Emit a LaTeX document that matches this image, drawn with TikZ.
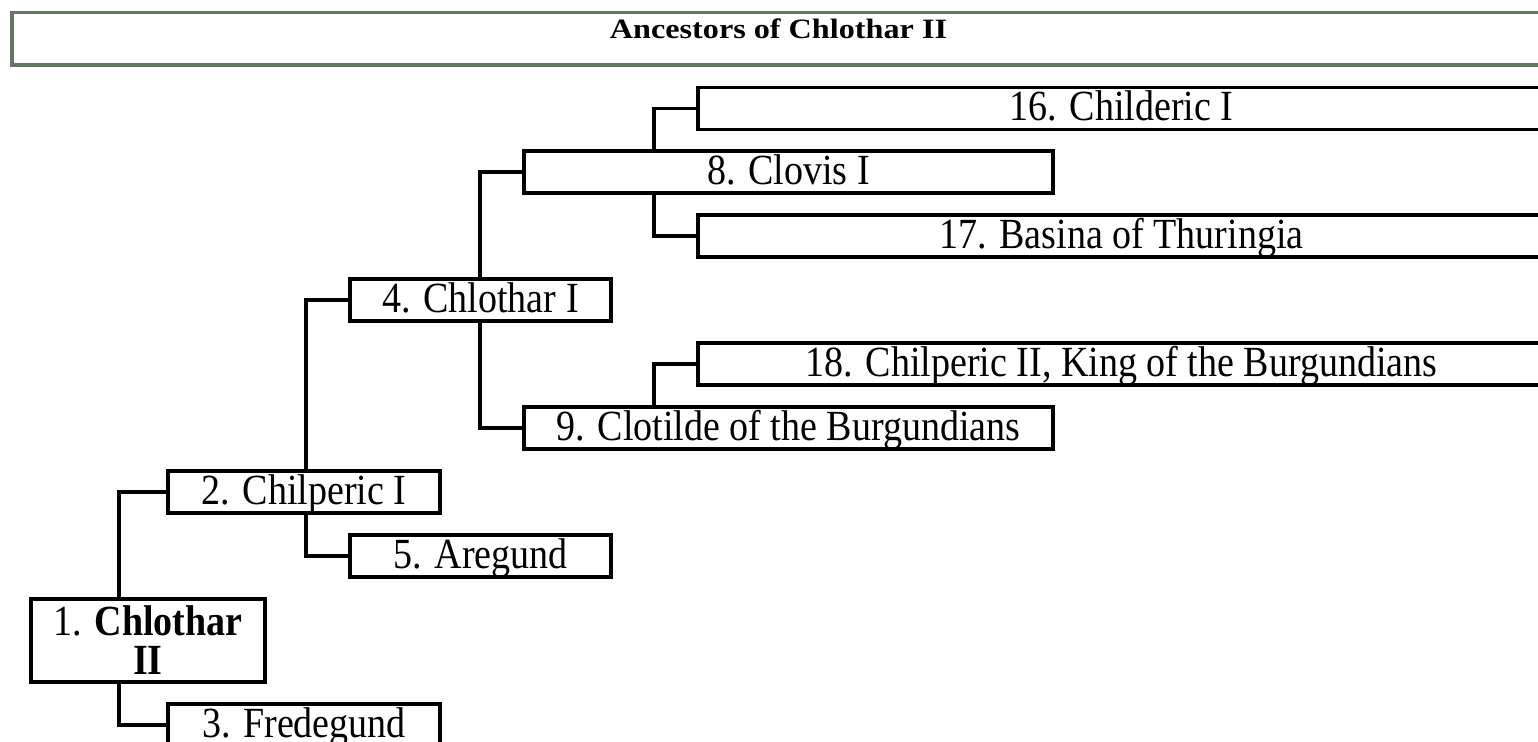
\documentclass[tikz,border=0pt]{standalone}
\usepackage{fontspec}
\setmainfont{Liberation Serif}[FakeStretch=0.884]
\newfontfamily\titlefont{Liberation Serif}[FakeStretch=1.15]
\definecolor{hdrgreen}{RGB}{100,118,97}
\tikzset{
  pbox/.style={draw, line width=1.65pt, inner sep=0pt, outer sep=0pt,
    anchor=north west, minimum height=21pt,
    font=\fontsize{21.5}{19.5}\selectfont, align=center},
  person/.style={pbox, text height=16.25pt, text depth=3.75pt},
  header/.style={draw=hdrgreen, line width=1.75pt, inner sep=0pt, outer sep=0pt,
    anchor=north west, text height=7pt, text depth=7pt,
    font=\titlefont\fontsize{14}{16}\selectfont\bfseries},
  kin/.style={line width=1.65pt}
}
% child hangs off a line that drops from the parent
\newcommand{\kinline}[3][44]{%
  \path (#3.west) ++(-#1,0) coordinate (#3-k);
  \draw[kin] (#3.west) -- (#3-k) -- (#3-k |- #2);}

\begin{document}
\begin{tikzpicture}[x=0.5pt, y=-0.5pt]
      \useasboundingbox (0,0) rectangle (1538,742);
      \clip (0,0) rectangle (1538,742);
      % Define nodes
      \node[header, minimum width=766.5pt, minimum height=26.25pt] (hdr) at (12,12.5) {Ancestors of Chlothar II};
      \node[pbox, minimum width=117pt, minimum height=41.5pt] (p1) at (31,599) {1. \textbf{Chlothar}\\\textbf{II}};
      \node[person, minimum width=136pt] (p2) at (168,471) {2. Chilperic I};
      \node[person, minimum width=136pt] (p3) at (168,704) {3. Fredegund};
      \node[person, minimum width=130.5pt] (p4) at (350,279) {4. Chlothar I};
      \node[person, minimum width=130.5pt] (p5) at (350,535) {5. Aregund};
      \node[person, minimum width=264.5pt] (p8) at (524,151) {8. Clovis I};
      \node[person, minimum width=264.5pt] (p9) at (524,407) {9. Clotilde of the Burgundians};
      \node[person, minimum width=423.5pt] (p16) at (698,87.5) {16. Childeric I};
      \node[person, minimum width=423.5pt] (p17) at (698,215) {17. Basina of Thuringia};
      \node[person, minimum width=423.5pt] (p18) at (698,343) {18. Chilperic II, King of the Burgundians};
      % Connect nodes
      \kinline[49]{p1.north}{p2}
      \kinline[49]{p1.south}{p3}
      \kinline{p2.north}{p4}
      \kinline{p2.south}{p5}
      \kinline{p4.north}{p8}
      \kinline{p4.south}{p9}
      \kinline{p8.north}{p16}
      \kinline{p8.south}{p17}
      \kinline{p9.north}{p18}
    \end{tikzpicture}
\end{document}
